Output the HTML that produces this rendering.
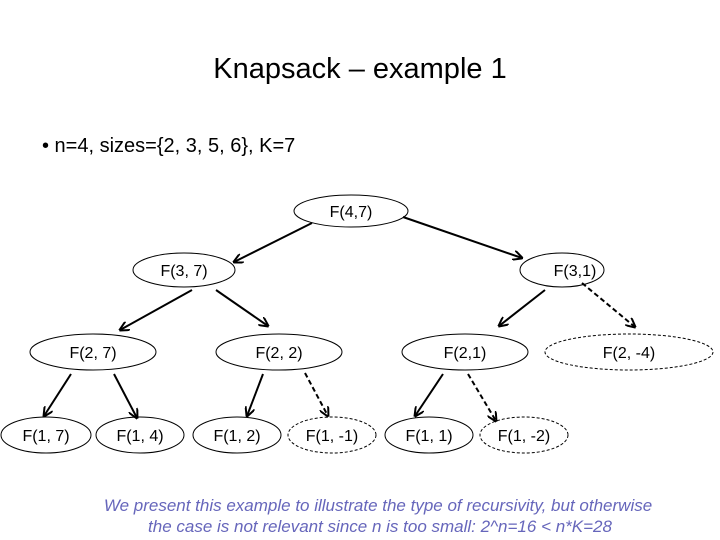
<!DOCTYPE html>
<html><head><style>
body{margin:0;background:#fff;}
svg{display:block;}
</style></head><body>
<svg width="720" height="540" xmlns="http://www.w3.org/2000/svg" font-family="Liberation Sans, Arial, sans-serif">
<defs>
<marker id="a" markerWidth="10" markerHeight="10" refX="9" refY="5" orient="auto" markerUnits="userSpaceOnUse">
<path d="M0,0 L10,5 L0,10" fill="none" stroke="#000" stroke-width="2"/>
</marker>
</defs>
<text x="360" y="78" font-size="29" text-anchor="middle">Knapsack – example 1</text>
<text x="42" y="152" font-size="20">•  n=4, sizes={2, 3, 5, 6}, K=7</text>
<g fill="#fff" stroke="#000" stroke-width="1">
<ellipse cx="351" cy="211" rx="57" ry="16"/>
<ellipse cx="184" cy="270" rx="51" ry="17"/>
<ellipse cx="562" cy="270" rx="42" ry="17"/>
<ellipse cx="93" cy="352" rx="63" ry="18"/>
<ellipse cx="279" cy="352" rx="63" ry="18"/>
<ellipse cx="465" cy="352" rx="63" ry="18"/>
<ellipse cx="629" cy="352" rx="84" ry="18" stroke-dasharray="3,2"/>
<ellipse cx="46" cy="435" rx="45" ry="18"/>
<ellipse cx="140" cy="435" rx="44" ry="18"/>
<ellipse cx="237" cy="435" rx="44" ry="18"/>
<ellipse cx="332" cy="435" rx="44" ry="18" stroke-dasharray="3,2"/>
<ellipse cx="429" cy="435" rx="44" ry="18"/>
<ellipse cx="524" cy="435" rx="44" ry="18" stroke-dasharray="3,2"/>
</g>
<g font-size="16" text-anchor="middle">
<text x="351" y="217">F(4,7)</text>
<text x="184" y="276">F(3, 7)</text>
<text x="575" y="276">F(3,1)</text>
<text x="93" y="358">F(2, 7)</text>
<text x="279" y="358">F(2, 2)</text>
<text x="465" y="358">F(2,1)</text>
<text x="629" y="358">F(2, -4)</text>
<text x="46" y="441">F(1, 7)</text>
<text x="140" y="441">F(1, 4)</text>
<text x="237" y="441">F(1, 2)</text>
<text x="332" y="441">F(1, -1)</text>
<text x="429" y="441">F(1, 1)</text>
<text x="524" y="441">F(1, -2)</text>
</g>
<g stroke="#000" stroke-width="2" marker-end="url(#a)">
<line x1="312" y1="223" x2="234" y2="262"/>
<line x1="403" y1="217" x2="522" y2="258"/>
<line x1="192" y1="290" x2="120" y2="330"/>
<line x1="216" y1="290" x2="268" y2="326"/>
<line x1="545" y1="290" x2="499" y2="326"/>
<line x1="582" y1="283" x2="635" y2="327" stroke-dasharray="5,3"/>
<line x1="71" y1="374" x2="44" y2="416"/>
<line x1="114" y1="374" x2="137" y2="418"/>
<line x1="263" y1="374" x2="247" y2="416"/>
<line x1="305" y1="373" x2="328" y2="416" stroke-dasharray="5,3"/>
<line x1="443" y1="374" x2="415" y2="416"/>
<line x1="468" y1="374" x2="496" y2="421" stroke-dasharray="5,3"/>
</g>
<g font-size="17" font-style="italic" fill="#6666bb" text-anchor="middle">
<text x="378" y="511">We present this example to illustrate the type of recursivity,  but otherwise</text>
<text x="380" y="532">the case is not relevant since n is too small: 2^n=16 &lt; n*K=28</text>
</g>
</svg>
</body></html>
